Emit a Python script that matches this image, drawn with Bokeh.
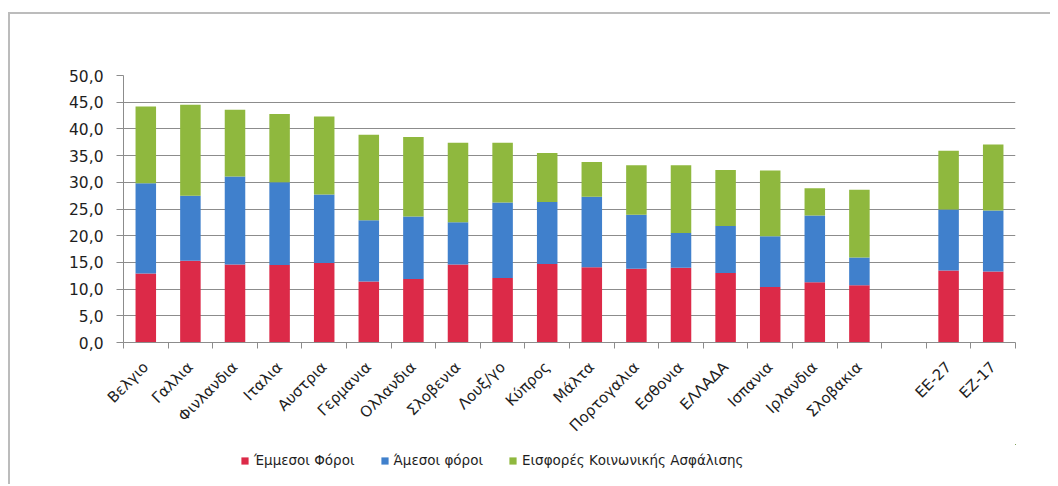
from bokeh.plotting import figure
from bokeh.models import (FixedTicker, CustomJSTickFormatter, Legend, LegendItem,
                          Range1d, ColumnDataSource)
from bokeh.layouts import column
from bokeh.embed import file_html
from bokeh.resources import INLINE
from math import pi

# ---- data ----
categories = ["Βελγιο", "Γαλλια", "Φινλανδια", "Ιταλια", "Αυστρια", "Γερμανια",
              "Ολλανδια", "Σλοβενια", "Λουξ/γο", "Κύπρος", "Μάλτα", "Πορτογαλια",
              "Εσθονια", "ΕΛΛΑΔΑ", "Ισπανια", "Ιρλανδια", "Σλοβακια", "ΕΕ-27", "ΕΖ-17"]
indirect_taxes = [12.9, 15.3, 14.6, 14.5, 14.9, 11.4, 11.9, 14.6, 12.1, 14.7, 14.1,
                  13.8, 14.0, 13.0, 10.4, 11.3, 10.7, 13.5, 13.3]
direct_taxes = [16.9, 12.2, 16.5, 15.5, 12.8, 11.5, 11.7, 7.9, 14.1, 11.6, 13.2,
                10.1, 6.5, 8.8, 9.5, 12.5, 5.2, 11.4, 11.4]
social_contrib = [14.4, 17.0, 12.5, 12.8, 14.6, 16.0, 14.9, 14.9, 11.2, 9.2, 6.5,
                  9.3, 12.7, 10.5, 12.3, 5.1, 12.7, 11.0, 12.4]
series_names = ["Έμμεσοι Φόροι", "Άμεσοι φόροι", "Εισφορές Κοινωνικής Ασφάλισης"]
yticks = [0, 5, 10, 15, 20, 25, 30, 35, 40, 45, 50]
ytick_labels = ["0,0", "5,0", "10,0", "15,0", "20,0", "25,0", "30,0", "35,0",
                "40,0", "45,0", "50,0"]
n_countries = 17  # aggregates (EE-27, EZ-17) follow after one empty slot

# ---- layout helpers ----
colors = ["#dc2a48", "#4080cc", "#8fb83e"]
stack_keys = ["ind", "dir", "soc"]
xpos = [i + 0.5 + (1 if i >= n_countries else 0) for i in range(len(categories))]
n_slots = len(categories) + 1
boundaries = list(range(0, n_slots + 1))

src = ColumnDataSource(dict(x=xpos, ind=indirect_taxes, dir=direct_taxes,
                            soc=social_contrib, name=categories))

p = figure(width=1040, height=430, output_backend="svg", toolbar_location=None,
           x_range=Range1d(0, n_slots), y_range=Range1d(0, 50),
           min_border_left=113, min_border_right=35, min_border_top=61,
           min_border_bottom=100)
p.outline_line_color = None
p.background_fill_color = "white"
p.border_fill_color = "white"

p.vbar_stack(stack_keys, x="x", width=0.46, color=colors, line_color=None, source=src)

# y axis
p.yaxis.ticker = FixedTicker(ticks=yticks)
p.yaxis.major_label_overrides = {t: l for t, l in zip(yticks, ytick_labels)}
p.yaxis.major_tick_out = 7
p.yaxis.major_tick_in = 0
p.yaxis.minor_tick_line_color = None
p.yaxis.axis_line_color = "#8c8c8c"
p.yaxis.major_tick_line_color = "#8c8c8c"
p.yaxis.major_label_text_font = "DejaVu Sans"
p.yaxis.major_label_text_font_size = "15.5px"
p.yaxis.major_label_text_color = "#1e1e1e"
p.yaxis.major_label_standoff = 13

# x axis
p.xaxis.ticker = FixedTicker(ticks=xpos, minor_ticks=boundaries)
p.xaxis.formatter = CustomJSTickFormatter(
    args=dict(labels=categories, xs=xpos),
    code="const i = xs.findIndex(v => Math.abs(v - tick) < 1e-6); return i >= 0 ? labels[i] : '';")
p.xaxis.major_tick_out = 0
p.xaxis.major_tick_in = 0
p.xaxis.minor_tick_out = 6
p.xaxis.minor_tick_in = 0
p.xaxis.minor_tick_line_color = "#8c8c8c"
p.xaxis.axis_line_color = "#8c8c8c"
p.xaxis.major_label_orientation = pi / 4
p.xaxis.major_label_text_font = "DejaVu Sans"
p.xaxis.major_label_text_font_size = "15px"
p.xaxis.major_label_text_color = "#1e1e1e"
p.xaxis.major_label_standoff = 16

p.xgrid.visible = False
p.ygrid.grid_line_color = "#8c8c8c"
p.ygrid.grid_line_width = 1

# ---- legend strip (separate small figure underneath; its frame aligns with p's) ----
# its ranges lie away from the data so that only the legend shows
lf = figure(width=1040, height=40, output_backend="svg", toolbar_location=None,
            x_range=Range1d(-200, -100), y_range=Range1d(-200, -100),
            x_axis_location=None, y_axis_location=None, min_border=0)
lf.outline_line_color = None
lf.grid.visible = False
lrs = lf.vbar_stack(stack_keys, x="x", width=0.46, color=colors, line_color=None,
                    source=src)
legend = Legend(items=[LegendItem(label=n, renderers=[r]) for n, r in zip(series_names, lrs)],
                orientation="horizontal", location=(117, 14),
                glyph_width=9, glyph_height=9, label_standoff=5, spacing=25,
                padding=0, margin=0, border_line_color=None, background_fill_alpha=0,
                label_text_font="DejaVu Sans", label_text_font_size="13.5px",
                label_text_color="#1e1e1e", label_height=20)
lf.add_layout(legend, "center")

layout = column(p, lf, spacing=0)
layout.styles = {"margin-top": "12px", "margin-left": "8px",
                 "border-top": "2px solid #bcbcbc", "border-left": "2px solid #bcbcbc"}

open("out.html", "w").write(file_html(layout, INLINE))
